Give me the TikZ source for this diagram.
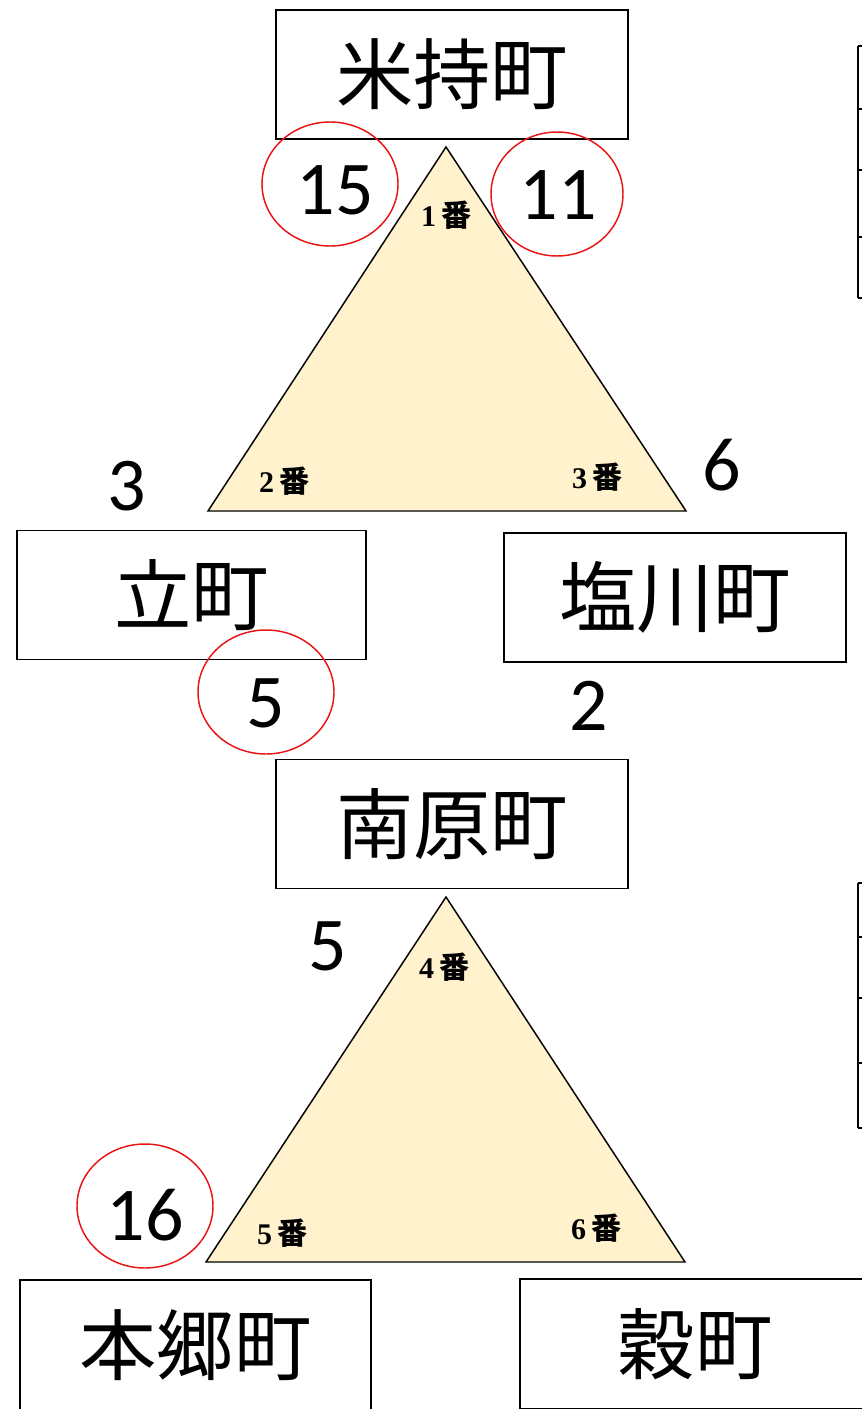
\documentclass[tikz,border=0pt]{standalone}
\usepackage{fontspec}
\setmainfont{Carlito}
\newfontfamily\jpfont{Noto Sans CJK JP}
\newfontfamily\banfont{Liberation Serif}
\definecolor{triyellow}{RGB}{255, 242, 204}
\definecolor{markred}{RGB}{235, 20, 20}
\usetikzlibrary{positioning, calc}

\tikzset{
  townbox/.style={draw, line width=1.4pt, minimum width=352*0.75pt, minimum height=129*0.75pt, inner sep=0pt, font=\jpfont\fontsize{58}{60}\selectfont},
  countnum/.style={inner sep=0pt, font=\fontsize{57}{60}\selectfont},
  banlabel/.style={inner sep=0pt, font=\fontsize{22.5}{24}\selectfont},
  markcircle/.style={draw=markred, line width=1.1pt},
  shrine/.style={draw, line width=1.1pt, fill=triyellow, line join=miter},
}
\newcommand{\ban}[1]{{\banfont\bfseries #1}\,{\jpfont\bfseries 番}}

\begin{document}
\begin{tikzpicture}[x=0.75pt, y=-0.75pt]
  \useasboundingbox (0,0) rectangle (862,1409);

  % Tables cut off at the right edge
  \draw[line width=1.2pt] (858,46) -- (858,298);
  \foreach \yy in {46,109,170,237,298} \draw[line width=1.2pt] (858,\yy) -- (870,\yy);
  \draw[line width=1.2pt] (858,883) -- (858,1128);
  \foreach \yy in {883,937,998,1063,1128} \draw[line width=1.2pt] (858,\yy) -- (870,\yy);

  % Upper triangle
  \coordinate (t1top) at (446,147);
  \coordinate (t1left) at (208,511);
  \coordinate (t1right) at (686,511);
  \draw[shrine] (t1top) -- (t1left) -- (t1right) -- cycle;
  \node[banlabel] (ban1) at (446,215) {\ban{1}};
  \node[banlabel] (ban2) at (284,481) {\ban{2}};
  \node[banlabel] (ban3) at (597,477) {\ban{3}};

  % Lower triangle
  \coordinate (t2top) at (446,897);
  \coordinate (t2left) at (206,1262);
  \coordinate (t2right) at (685,1262);
  \draw[shrine] (t2top) -- (t2left) -- (t2right) -- cycle;
  \node[banlabel] (ban4) at (444,967) {\ban{4}};
  \node[banlabel] (ban5) at (282,1233) {\ban{5}};
  \node[banlabel] (ban6) at (596,1228) {\ban{6}};

  % Towns
  \node[townbox] (yonemochi) at (452,74.5) {米持町};
  \node[townbox, minimum width=349*0.75pt] (tatemachi) at (191.5,595) {立町};
  \node[townbox, minimum width=342*0.75pt] (shiokawa) at (675,597.5) {塩川町};
  \node[townbox] (minamihara) at (452,824) {南原町};
  \node[townbox, minimum width=351*0.75pt, minimum height=130*0.75pt] (hongo) at (195.5,1345) {本郷町};
  \node[townbox, minimum width=350*0.75pt, minimum height=130*0.75pt] (kokumachi) at (695,1344) {穀町};

  % Counts
  \node[countnum] (n15) at (335,190) {15};
  \node[countnum] (n11) at (558,195) {11};
  \node[countnum] (n3) at (127,486) {3};
  \node[countnum] (n6) at (722,465) {6};
  \node[countnum] (n5a) at (266,703) {5};
  \node[countnum] (n2) at (589,706) {2};
  \node[countnum] (n5b) at (328,946) {5};
  \node[countnum] (n16) at (145,1215) {16};

  % Red marks
  \draw[markcircle] ($(n15)+(-5,-6)$) ellipse (68 and 62);
  \draw[markcircle] ($(n11)+(-1,-1)$) ellipse (66 and 62);
  \draw[markcircle] ($(n5a)+(0,-11)$) ellipse (68 and 62);
  \draw[markcircle] ($(n16)+(0,-9)$) ellipse (68 and 62);
\end{tikzpicture}
\end{document}
